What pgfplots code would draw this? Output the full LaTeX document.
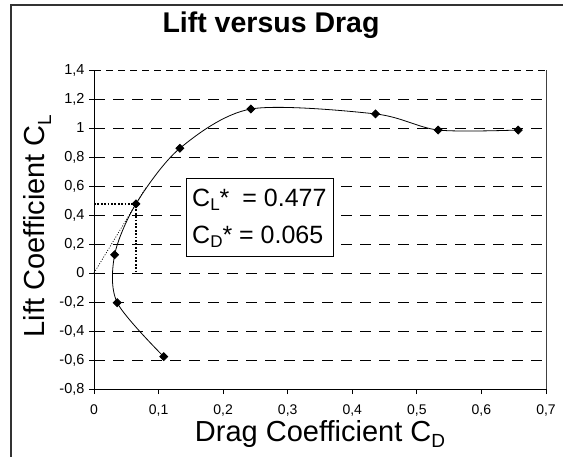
\documentclass[border=0pt]{standalone}
\usepackage{pgfplots}
\pgfplotsset{compat=1.18}
\usepackage{fontspec}
\setmainfont{Liberation Sans}
\begin{document}
\begin{tikzpicture}[x=1pt,y=1pt]
\path[use as bounding box] (0,0) rectangle (563,456);
\draw[line width=1.5pt, black!80] (11,-5) -- (11,451) -- (570,451);
\begin{axis}[
  at={(94pt,67pt)}, anchor=south west, scale only axis,
  width=452pt, height=319pt,
  xmin=0, xmax=0.7, ymin=-0.8, ymax=1.4,
  axis lines=left,
  axis line style={-, line width=1pt, black},
  tick align=outside,
  major tick length=5pt,
  tick style={black, line width=0.8pt},
  xtick={0,0.1,0.2,0.3,0.4,0.5,0.6,0.7},
  ytick={-0.8,-0.6,-0.4,-0.2,0,0.2,0.4,0.6,0.8,1,1.2},
  extra y ticks={1.4},
  extra y tick style={grid=none},
  ymajorgrids,
  grid style={black, line width=0.7pt, dash pattern=on 11pt off 8pt},
  /pgf/number format/.cd, use comma, 1000 sep={}, assume math mode=true,
  /pgfplots/.cd,
  xticklabel style={font=\fontsize{14}{15}\selectfont, yshift=-7pt},
  yticklabel style={font=\fontsize{14.5}{15}\selectfont, xshift=-1pt},
  clip=false,
]
\draw[black!75, line width=0.8pt] (axis cs:0.7,-0.8) -- (axis cs:0.7,1.4);
\draw[black, line width=0.7pt, dash pattern=on 7pt off 5pt] (axis cs:0,1.4) -- (axis cs:0.7,1.4);
\addplot[black, line width=1.8pt, dash pattern=on 1.7pt off 1.7pt] coordinates {(0,0.477) (0.065,0.477) (0.065,0)};
\addplot[black, line width=0.7pt, dash pattern=on 1pt off 1.6pt] coordinates {(0,0) (0.08,0.587)};
\addplot[black, line width=0.8pt, smooth, mark=square*, mark size=2.8pt, mark options={rotate=45, solid}] coordinates {
(0.108,-0.577) (0.036,-0.205) (0.032,0.126) (0.065,0.477) (0.133,0.860) (0.243,1.131) (0.436,1.097) (0.533,0.986) (0.657,0.986)};
\end{axis}
\draw[line width=1pt, fill=white] (186,199) rectangle (333,277);
\node[anchor=base west, inner sep=0] at (192,249.3) {\fontsize{25}{25}\selectfont C\raisebox{-4pt}{\fontsize{17}{17}\selectfont L}*\hspace{13pt}= 0.477};
\node[anchor=base west, inner sep=0] at (192,212) {\fontsize{25}{25}\selectfont C\raisebox{-4pt}{\fontsize{17}{17}\selectfont D}* = 0.065};
\node[anchor=base, inner sep=0] at (271,423) {\fontsize{28.5}{28.5}\selectfont\bfseries Lift versus Drag};
\node[anchor=base, inner sep=0] at (320,15) {\fontsize{29}{29}\selectfont Drag Coefficient C\raisebox{-6pt}{\fontsize{19}{19}\selectfont D}};
\node[anchor=base, inner sep=0, rotate=90] at (45,230) {\fontsize{29}{29}\selectfont Lift Coefficient C\raisebox{-6pt}{\fontsize{19}{19}\selectfont L}};
\end{tikzpicture}
\end{document}
